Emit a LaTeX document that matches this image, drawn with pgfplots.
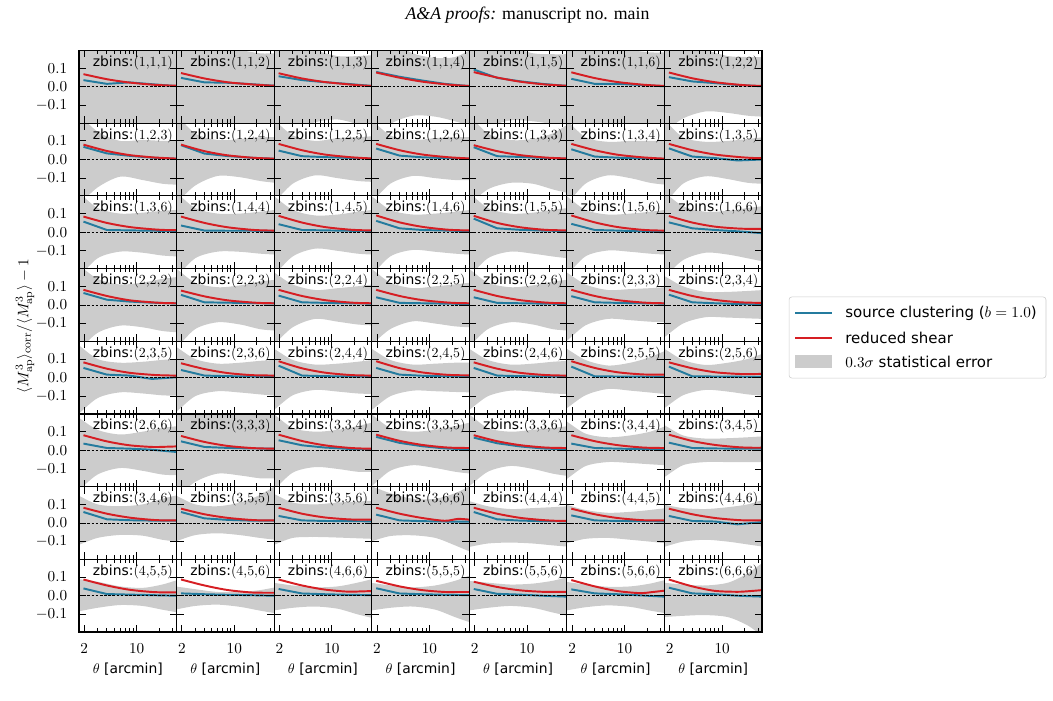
\documentclass[border=0pt]{standalone}
\usepackage[no-math]{fontspec}
\setmainfont{DejaVu Sans}
\newfontfamily\timesfont{Liberation Serif}
\usepackage{pgfplots}
\pgfplotsset{compat=1.18}
\definecolor{bandgray}{RGB}{204,204,204}
\definecolor{scblue}{RGB}{36,123,158}
\definecolor{shearred}{RGB}{214,30,35}

\def\mkU#1,#2,#3,#4,#5,#6\relax{\def\Ucoords{(1.3,#1)(1.6,#1)(3,#2)(6,#3)(12,#4)(22,#5)(36,#6)(45,#6)}}
\def\mkL#1,#2,#3,#4,#5,#6\relax{\def\Lcoords{(45,#6)(36,#6)(22,#5)(12,#4)(6,#3)(3,#2)(1.6,#1)(1.3,#1)}}
\def\mkB#1,#2,#3,#4,#5\relax{\addplot[forget plot,color=scblue,line width=1.4pt,mark=none] coordinates {(1.95,#1)(4,#2)(8,#3)(16,#4)(34,#5)};}
\def\mkR#1,#2,#3,#4,#5,#6\relax{\addplot[forget plot,color=shearred,line width=1.4pt,mark=none,smooth] coordinates {(1.95,#1)(4,#2)(8,#3)(16,#4)(24,#5)(34,#6)};}
\def\mklab(#1,#2,#3)\relax{zbins:$(#1{,}#2{,}#3)$}

% #1 col, #2 row, #3 extra axis options, #4 label, #5 upper, #6 lower, #7 blue, #8 red
\newcommand\panel[8]{%
\mkU#5\relax\mkL#6\relax
\edef\bandcmd{\noexpand\addplot[forget plot,fill=bandgray,draw=none,smooth] coordinates {\Ucoords\Lcoords};}%
\begin{axis}[xmode=log,
  at={(56.88pt+#1*70.25pt,-36.36pt-#2*52.34pt)}, anchor=north west,
  scale only axis, width=70.25pt, height=52.34pt,
  xmin=1.7, xmax=34, ymin=-0.195, ymax=0.195,
  xtick={2,10}, minor xtick={3,4,5,6,7,8,9,20,30}, ytick={-0.1,0,0.1},
  yticklabels={}, xticklabels={},
  extra y ticks={0}, extra y tick labels={},
  extra y tick style={grid=major, major grid style={black, line width=0.5pt, dash pattern=on 2pt off 1pt}, tick style={draw=none}},
  tick label style={font=\fontsize{11}{13}\selectfont},
  tick align=inside, major tick length=5pt, minor tick length=2.8pt,
  tick style={black, line width=0.6pt},
  axis line style={black, line width=0.8pt},
  axis on top, clip=true,
  xticklabel shift=4.5pt, yticklabel shift=5pt,
  #3]
\bandcmd
\mkB#7\relax
\mkR#8\relax
\node[anchor=north east, inner sep=0pt] at (rel axis cs:0.965,0.93) {\mklab#4\relax};
\end{axis}}

\begin{document}
\begin{tikzpicture}
\useasboundingbox (0,0) rectangle (758.16pt,-504.72pt);
\node at (379.8pt,-10.8pt) {\timesfont\fontsize{12.8}{15}\selectfont\textit{A\&A proofs:} manuscript no. main};
\node[rotate=90] at (18pt,-234.7pt) {\fontsize{11}{13}\selectfont$\langle M^3_{\rm ap}\rangle_{\rm corr}/\langle M^3_{\rm ap}\rangle-1$};

% row 1
\panel{0}{0}{yticklabels={$-0.1$,$0.0$,$0.1$}}{(1,1,1)}{0.3,0.3,0.3,0.3,0.3,0.3}{-0.3,-0.3,-0.3,-0.3,-0.3,-0.3}{0.036,0.016,0.024,0.014,0.004}{0.068,0.041,0.023,0.012,0.008,0.006}
\panel{1}{0}{}{(1,1,2)}{0.3,0.3,0.25,0.2,0.18,0.18}{-0.3,-0.3,-0.25,-0.23,-0.22,-0.22}{0.048,0.024,0.022,0.015,0.006}{0.074,0.045,0.025,0.014,0.009,0.006}
\panel{2}{0}{}{(1,1,3)}{0.3,0.28,0.2,0.165,0.165,0.17}{-0.3,-0.24,-0.19,-0.175,-0.2,-0.22}{0.057,0.036,0.025,0.016,0.005}{0.073,0.045,0.026,0.014,0.008,0.005}
\panel{3}{0}{}{(1,1,4)}{0.3,0.25,0.18,0.155,0.16,0.2}{-0.3,-0.2,-0.155,-0.16,-0.185,-0.21}{0.08,0.054,0.034,0.016,0.004}{0.077,0.049,0.028,0.014,0.008,0.005}
\panel{4}{0}{}{(1,1,5)}{0.3,0.28,0.22,0.18,0.175,0.175}{-0.3,-0.22,-0.18,-0.185,-0.2,-0.22}{0.093,0.048,0.03,0.016,0.005}{0.079,0.05,0.028,0.014,0.009,0.006}
\panel{5}{0}{}{(1,1,6)}{0.3,0.3,0.25,0.2,0.185,0.185}{-0.3,-0.3,-0.25,-0.22,-0.21,-0.21}{0.043,0.016,0.016,0.01,0.003}{0.078,0.047,0.026,0.013,0.008,0.005}
\panel{6}{0}{}{(1,2,2)}{0.3,0.26,0.2,0.165,0.16,0.16}{-0.25,-0.17,-0.132,-0.14,-0.155,-0.16}{0.052,0.029,0.02,0.01,0.003}{0.077,0.046,0.025,0.012,0.007,0.005}
% row 2
\panel{0}{1}{yticklabels={$-0.1$,$0.0$,$0.1$}}{(1,2,3)}{0.25,0.15,0.1,0.105,0.1,0.1}{-0.25,-0.15,-0.092,-0.11,-0.13,-0.135}{0.068,0.033,0.02,0.01,0.004}{0.08,0.046,0.024,0.012,0.008,0.005}
\panel{1}{1}{}{(1,2,4)}{0.25,0.14,0.105,0.11,0.12,0.12}{-0.24,-0.14,-0.088,-0.095,-0.115,-0.125}{0.077,0.032,0.019,0.01,0.004}{0.08,0.045,0.023,0.011,0.007,0.005}
\panel{2}{1}{}{(1,2,5)}{0.22,0.13,0.1,0.115,0.12,0.125}{-0.24,-0.13,-0.085,-0.1,-0.115,-0.12}{0.048,0.018,0.013,0.009,0.004}{0.084,0.05,0.027,0.014,0.009,0.006}
\panel{3}{1}{}{(1,2,6)}{0.22,0.13,0.105,0.115,0.12,0.12}{-0.24,-0.13,-0.088,-0.1,-0.11,-0.11}{0.059,0.021,0.012,0.008,0.004}{0.084,0.05,0.027,0.014,0.009,0.006}
\panel{4}{1}{}{(1,3,3)}{0.25,0.14,0.105,0.11,0.14,0.19}{-0.25,-0.16,-0.125,-0.13,-0.16,-0.18}{0.066,0.018,0.014,0.009,0.004}{0.077,0.045,0.024,0.012,0.008,0.006}
\panel{5}{1}{}{(1,3,4)}{0.22,0.12,0.095,0.1,0.1,0.1}{-0.25,-0.13,-0.085,-0.1,-0.125,-0.135}{0.055,0.016,0.01,0.006,0.003}{0.084,0.05,0.026,0.013,0.008,0.005}
\panel{6}{1}{}{(1,3,5)}{0.22,0.12,0.095,0.1,0.11,0.12}{-0.25,-0.13,-0.09,-0.105,-0.125,-0.13}{0.06,0.016,0.008,-0.005,0.0}{0.084,0.05,0.027,0.014,0.009,0.007}
% row 3
\panel{0}{2}{yticklabels={$-0.1$,$0.0$,$0.1$}}{(1,3,6)}{0.22,0.13,0.1,0.105,0.115,0.12}{-0.25,-0.14,-0.104,-0.11,-0.125,-0.13}{0.057,0.012,0.01,0.008,0.007}{0.084,0.05,0.028,0.016,0.012,0.011}
\panel{1}{2}{}{(1,4,4)}{0.22,0.13,0.1,0.1,0.11,0.12}{-0.25,-0.14,-0.104,-0.105,-0.115,-0.12}{0.036,0.009,0.008,0.008,0.007}{0.084,0.05,0.027,0.014,0.01,0.009}
\panel{2}{2}{}{(1,4,5)}{0.2,0.12,0.09,0.095,0.11,0.12}{-0.24,-0.13,-0.088,-0.1,-0.115,-0.12}{0.043,0.012,0.01,0.008,0.006}{0.088,0.052,0.028,0.015,0.011,0.01}
\panel{3}{2}{}{(1,4,6)}{0.2,0.12,0.095,0.1,0.11,0.12}{-0.24,-0.13,-0.095,-0.105,-0.115,-0.12}{0.061,0.021,0.012,0.009,0.006}{0.09,0.053,0.029,0.015,0.011,0.01}
\panel{4}{2}{}{(1,5,5)}{0.22,0.13,0.1,0.105,0.12,0.13}{-0.25,-0.14,-0.104,-0.115,-0.13,-0.14}{0.073,0.021,0.013,0.009,0.006}{0.088,0.05,0.027,0.014,0.011,0.01}
\panel{5}{2}{}{(1,5,6)}{0.2,0.12,0.095,0.1,0.11,0.12}{-0.24,-0.13,-0.098,-0.105,-0.115,-0.12}{0.045,0.012,0.009,0.005,0.0}{0.09,0.053,0.028,0.014,0.01,0.009}
\panel{6}{2}{}{(1,6,6)}{0.22,0.14,0.11,0.115,0.13,0.14}{-0.25,-0.15,-0.11,-0.12,-0.14,-0.157}{0.053,0.021,0.012,0.005,-0.005}{0.087,0.052,0.03,0.02,0.018,0.018}
% row 4
\panel{0}{3}{yticklabels={$-0.1$,$0.0$,$0.1$}}{(2,2,2)}{0.22,0.14,0.11,0.12,0.14,0.15}{-0.25,-0.15,-0.111,-0.12,-0.14,-0.147}{0.064,0.028,0.018,0.012,0.008}{0.081,0.048,0.025,0.014,0.01,0.009}
\panel{1}{3}{}{(2,2,3)}{0.2,0.12,0.095,0.105,0.125,0.135}{-0.24,-0.13,-0.093,-0.105,-0.13,-0.138}{0.054,0.014,0.012,0.01,0.008}{0.077,0.046,0.025,0.014,0.01,0.009}
\panel{2}{3}{}{(2,2,4)}{0.18,0.11,0.08,0.09,0.1,0.11}{-0.22,-0.12,-0.075,-0.09,-0.105,-0.11}{0.05,0.014,0.011,0.009,0.007}{0.081,0.048,0.026,0.014,0.01,0.009}
\panel{3}{3}{}{(2,2,5)}{0.2,0.12,0.09,0.1,0.11,0.12}{-0.22,-0.13,-0.088,-0.1,-0.115,-0.12}{0.041,0.011,0.009,0.007,0.005}{0.081,0.048,0.026,0.014,0.01,0.009}
\panel{4}{3}{}{(2,2,6)}{0.2,0.12,0.095,0.105,0.125,0.135}{-0.23,-0.13,-0.093,-0.105,-0.13,-0.138}{0.041,0.011,0.009,0.007,0.005}{0.081,0.048,0.026,0.014,0.01,0.009}
\panel{5}{3}{}{(2,3,3)}{0.18,0.11,0.08,0.085,0.09,0.095}{-0.2,-0.11,-0.075,-0.082,-0.09,-0.093}{0.047,0.014,0.011,0.009,0.007}{0.081,0.048,0.026,0.014,0.01,0.009}
\panel{6}{3}{}{(2,3,4)}{0.16,0.1,0.07,0.07,0.075,0.08}{-0.18,-0.1,-0.066,-0.068,-0.072,-0.075}{0.055,0.014,0.009,0.005,0.002}{0.081,0.048,0.027,0.015,0.012,0.011}
% row 5
\panel{0}{4}{yticklabels={$-0.1$,$0.0$,$0.1$}}{(2,3,5)}{0.18,0.1,0.08,0.085,0.095,0.1}{-0.2,-0.11,-0.079,-0.085,-0.095,-0.097}{0.052,0.016,0.011,-0.007,0.002}{0.082,0.048,0.026,0.015,0.012,0.011}
\panel{1}{4}{}{(2,3,6)}{0.17,0.1,0.075,0.08,0.09,0.095}{-0.19,-0.1,-0.073,-0.08,-0.09,-0.097}{0.041,0.011,0.008,0.006,0.005}{0.077,0.046,0.025,0.014,0.012,0.011}
\panel{2}{4}{}{(2,4,4)}{0.16,0.095,0.07,0.075,0.085,0.095}{-0.18,-0.095,-0.066,-0.075,-0.085,-0.088}{0.064,0.011,0.008,0.006,0.005}{0.088,0.05,0.027,0.015,0.012,0.011}
\panel{3}{4}{}{(2,4,5)}{0.16,0.095,0.07,0.075,0.08,0.08}{-0.18,-0.1,-0.07,-0.073,-0.077,-0.079}{0.052,0.016,0.01,0.007,0.005}{0.088,0.051,0.028,0.016,0.013,0.0125}
\panel{4}{4}{}{(2,4,6)}{0.16,0.095,0.07,0.075,0.085,0.09}{-0.18,-0.1,-0.07,-0.075,-0.085,-0.088}{0.052,0.011,0.008,0.006,0.005}{0.082,0.048,0.026,0.015,0.012,0.011}
\panel{5}{4}{}{(2,5,5)}{0.16,0.095,0.065,0.08,0.11,0.145}{-0.17,-0.095,-0.061,-0.07,-0.08,-0.088}{0.059,0.007,0.006,0.005,0.004}{0.088,0.052,0.029,0.018,0.016,0.016}
\panel{6}{4}{}{(2,5,6)}{0.16,0.095,0.068,0.08,0.1,0.13}{-0.17,-0.095,-0.066,-0.075,-0.09,-0.097}{0.059,0.007,0.006,0.005,0.004}{0.082,0.05,0.029,0.02,0.019,0.02}
% row 6
\panel{0}{5}{yticklabels={$-0.1$,$0.0$,$0.1$}}{(2,6,6)}{0.18,0.11,0.085,0.1,0.12,0.13}{-0.22,-0.13,-0.095,-0.11,-0.13,-0.134}{0.036,0.0125,0.009,0.003,-0.009}{0.081,0.048,0.027,0.018,0.019,0.021}
\panel{1}{5}{}{(3,3,3)}{0.25,0.2,0.2,0.22,0.25,0.25}{-0.26,-0.17,-0.125,-0.135,-0.15,-0.15}{0.048,0.018,0.013,0.01,0.009}{0.077,0.045,0.024,0.013,0.01,0.009}
\panel{2}{5}{}{(3,3,4)}{0.2,0.12,0.1,0.11,0.13,0.15}{-0.22,-0.12,-0.09,-0.1,-0.115,-0.116}{0.054,0.027,0.015,0.008,0.005}{0.084,0.05,0.027,0.014,0.01,0.009}
\panel{3}{5}{}{(3,3,5)}{0.2,0.12,0.1,0.11,0.13,0.15}{-0.2,-0.11,-0.08,-0.095,-0.115,-0.125}{0.072,0.04,0.022,0.01,0.005}{0.084,0.051,0.029,0.016,0.013,0.0125}
\panel{4}{5}{}{(3,3,6)}{0.2,0.12,0.1,0.11,0.12,0.13}{-0.2,-0.115,-0.084,-0.1,-0.125,-0.138}{0.068,0.038,0.021,0.01,0.005}{0.081,0.049,0.028,0.016,0.013,0.0125}
\panel{5}{5}{}{(3,4,4)}{0.16,0.09,0.07,0.08,0.1,0.13}{-0.16,-0.085,-0.063,-0.068,-0.075,-0.08}{0.036,0.0125,0.009,0.007,0.005}{0.081,0.049,0.028,0.016,0.013,0.0125}
\panel{6}{5}{}{(3,4,5)}{0.14,0.08,0.063,0.065,0.07,0.075}{-0.15,-0.08,-0.063,-0.063,-0.063,-0.063}{0.041,0.0125,0.01,0.009,0.009}{0.084,0.05,0.029,0.017,0.014,0.014}
% row 7
\panel{0}{6}{yticklabels={$-0.1$,$0.0$,$0.1$}}{(3,4,6)}{0.15,0.1,0.09,0.1,0.13,0.15}{-0.12,-0.08,-0.064,-0.068,-0.09,-0.1}{0.059,0.02,0.015,0.013,0.0125}{0.082,0.05,0.029,0.017,0.014,0.014}
\panel{1}{6}{}{(3,5,5)}{0.15,0.1,0.09,0.11,0.15,0.2}{-0.1,-0.065,-0.055,-0.065,-0.08,-0.09}{0.059,0.025,0.017,0.013,0.0125}{0.077,0.047,0.028,0.017,0.014,0.014}
\panel{2}{6}{}{(3,5,6)}{0.16,0.11,0.1,0.11,0.115,0.12}{-0.12,-0.08,-0.075,-0.078,-0.082,-0.085}{0.038,0.014,0.011,0.01,0.009}{0.082,0.05,0.03,0.02,0.018,0.018}
\panel{3}{6}{}{(3,6,6)}{0.2,0.16,0.13,0.13,0.16,0.2}{-0.1,-0.07,-0.066,-0.08,-0.12,-0.155}{0.045,0.014,0.01,0.008,0.007}{0.082,0.05,0.027,0.012,0.022,0.018}
\panel{4}{6}{}{(4,4,4)}{0.12,0.09,0.075,0.08,0.085,0.09}{-0.13,-0.11,-0.105,-0.11,-0.12,-0.127}{0.059,0.02,0.013,0.01,0.009}{0.082,0.05,0.028,0.016,0.012,0.011}
\panel{5}{6}{}{(4,4,5)}{0.1,0.07,0.055,0.06,0.07,0.08}{-0.11,-0.085,-0.08,-0.09,-0.1,-0.109}{0.041,0.014,0.011,0.01,0.009}{0.077,0.047,0.027,0.016,0.014,0.014}
\panel{6}{6}{}{(4,4,6)}{0.1,0.08,0.075,0.085,0.1,0.125}{-0.13,-0.1,-0.09,-0.1,-0.115,-0.127}{0.038,0.011,0.008,-0.007,0.005}{0.077,0.047,0.027,0.016,0.014,0.014}
% row 8
\panel{0}{7}{yticklabels={$-0.1$,$0.0$,$0.1$},xticklabels={$2$,$10$},xlabel={$\theta$ [arcmin]}}{(4,5,5)}{0.09,0.075,0.05,0.042,0.06,0.085}{-0.085,-0.065,-0.05,-0.055,-0.075,-0.09}{0.039,0.009,0.006,0.003,0.0}{0.087,0.055,0.032,0.02,0.018,0.018}
\panel{1}{7}{xticklabels={$2$,$10$},xlabel={$\theta$ [arcmin]}}{(4,5,6)}{0.05,0.035,0.02,0.02,0.03,0.045}{-0.075,-0.055,-0.048,-0.06,-0.08,-0.094}{0.0125,0.008,0.005,0.003,0.0}{0.087,0.055,0.031,0.018,0.016,0.016}
\panel{2}{7}{xticklabels={$2$,$10$},xlabel={$\theta$ [arcmin]}}{(4,6,6)}{0.07,0.055,0.045,0.05,0.07,0.09}{-0.08,-0.065,-0.058,-0.07,-0.1,-0.12}{0.036,0.012,0.008,0.005,0.003}{0.087,0.055,0.033,0.022,0.023,0.025}
\panel{3}{7}{xticklabels={$2$,$10$},xlabel={$\theta$ [arcmin]}}{(5,5,5)}{0.07,0.055,0.045,0.055,0.08,0.11}{-0.08,-0.065,-0.058,-0.075,-0.115,-0.144}{0.04,0.012,0.008,0.005,0.003}{0.08,0.05,0.03,0.02,0.02,0.02}
\panel{4}{7}{xticklabels={$2$,$10$},xlabel={$\theta$ [arcmin]}}{(5,5,6)}{0.08,0.07,0.06,0.065,0.08,0.1}{-0.08,-0.065,-0.055,-0.065,-0.09,-0.108}{0.036,0.01,0.006,0.0,-0.005}{0.075,0.047,0.029,0.021,0.021,0.021}
\panel{5}{7}{xticklabels={$2$,$10$},xlabel={$\theta$ [arcmin]}}{(5,6,6)}{0.075,0.06,0.048,0.05,0.065,0.085}{-0.08,-0.062,-0.052,-0.06,-0.08,-0.094}{0.034,0.0125,0.008,0.002,-0.005}{0.084,0.05,0.025,0.014,0.02,0.027}
\panel{6}{7}{xticklabels={$2$,$10$},xlabel={$\theta$ [arcmin]}}{(6,6,6)}{0.07,0.06,0.055,0.07,0.12,0.18}{-0.115,-0.108,-0.104,-0.115,-0.16,-0.22}{0.043,0.0125,0.008,0.0,-0.005}{0.087,0.05,0.026,0.021,0.025,0.03}

% legend
\draw[black!20, fill=white, rounded corners=2pt] (568.1pt,-213.8pt) rectangle (753.1pt,-272.2pt);
\draw[scblue, line width=1.4pt] (572.4pt,-225.4pt) -- (599pt,-225.4pt);
\draw[shearred, line width=1.4pt] (572.4pt,-243.4pt) -- (599pt,-243.4pt);
\fill[bandgray] (572.4pt,-255.6pt) rectangle (599pt,-265pt);
\begin{scope}[every node/.style={anchor=west, inner sep=0pt, font=\fontsize{10.8}{13}\selectfont}]
\node at (608.4pt,-225.4pt) {source clustering ($b=1.0$)};
\node at (608.4pt,-243.4pt) {reduced shear};
\node at (608.4pt,-260.3pt) {$0.3\sigma$ statistical error};
\end{scope}
\end{tikzpicture}
\end{document}
